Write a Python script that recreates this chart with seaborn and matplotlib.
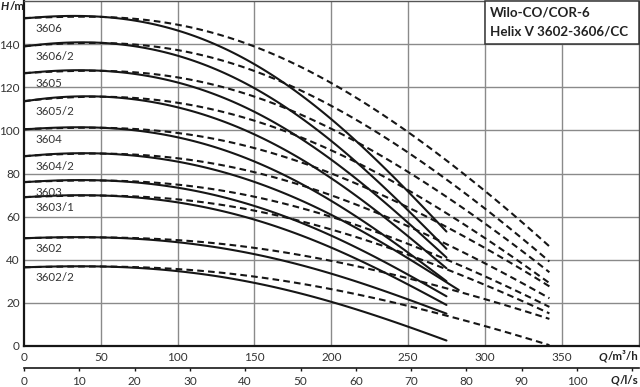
import numpy as np
import pandas as pd
import matplotlib
matplotlib.use("Agg")
import matplotlib.pyplot as plt
import seaborn as sns
from matplotlib.patches import Rectangle

# ---------------- data ----------------
pumps = ["3606", "3606/2", "3605", "3605/2", "3604", "3604/2", "3603", "3603/1", "3602", "3602/2"]

q_solid = [0, 25, 50, 75, 100, 125, 150, 175, 200, 225, 250, 275]
q_solid_long = [0, 25, 50, 75, 100, 125, 150, 175, 200, 225, 250, 275, 283]
q_dash = [0, 25, 50, 75, 100, 125, 150, 175, 200, 225, 250, 275, 300, 325, 342]

solid_3606 = [152, 153, 153, 150.5, 146.5, 139.5, 131, 119.5, 105, 89, 72, 53]
solid_3606_2 = [139, 140.5, 141, 138.6, 134.8, 128, 119.9, 108.8, 94.9, 79.6, 63.2, 45]
solid_3605 = [126.5, 127.7, 128, 125.8, 122.3, 116.3, 108.9, 98.9, 86.2, 72.3, 57.5, 41]
solid_3605_2 = [113.5, 115.4, 116, 114, 110.8, 105.2, 98.4, 89.2, 77.6, 64.8, 51.2, 36]
solid_3604 = [100.5, 101.3, 101.5, 99.7, 96.9, 91.9, 85.8, 77.5, 67.2, 55.7, 43.6, 30]
solid_3604_2 = [88, 89.2, 89.5, 88, 85.6, 81.4, 76.3, 69.4, 60.7, 51.1, 40.9, 29.5, 26]
solid_3603 = [76, 76.8, 77, 75.7, 73.5, 69.7, 65.1, 58.9, 51.1, 42.4, 33.3, 23]
solid_3603_1 = [69, 69.8, 70, 68.7, 66.7, 63.1, 58.8, 52.9, 45.5, 37.4, 28.7, 19]
solid_3602 = [50, 50.4, 50.5, 49.6, 48.2, 45.7, 42.7, 38.6, 33.5, 27.8, 21.7, 15]
solid_3602_2 = [36.5, 36.9, 37, 36.1, 34.8, 32.3, 29.4, 25.4, 20.4, 14.9, 9.1, 2.5]

dash_3606 = [152, 153, 153, 151.5, 148.5, 144.5, 139.5, 132.1, 122, 110.7, 99, 86.1, 72.2, 57.2, 46]
dash_3606_2 = [139, 140.5, 141, 139.6, 136.7, 132.9, 128.1, 121.1, 111.4, 100.7, 89.5, 77.3, 64, 49.7, 39]
dash_3605 = [126.5, 127.7, 128, 126.7, 124.1, 120.6, 116.2, 109.7, 100.7, 90.9, 80.5, 69.3, 57, 43.9, 34]
dash_3605_2 = [113.5, 115.4, 116, 114.8, 112.3, 109.1, 105, 99, 90.8, 81.6, 72.1, 61.6, 50.3, 38.1, 29]
dash_3604 = [100.5, 101.3, 101.5, 100.5, 98.4, 95.7, 92.2, 87.1, 80, 72.3, 64.1, 55.3, 45.6, 35.3, 27.5]
dash_3604_2 = [88, 89.2, 89.5, 88.6, 86.7, 84.2, 81, 76.3, 69.9, 62.8, 55.4, 47.3, 38.5, 29.1, 22]
dash_3603 = [76, 76.8, 77, 76.2, 74.5, 72.3, 69.6, 65.5, 59.9, 53.7, 47.2, 40.1, 32.5, 24.2, 18]
dash_3603_1 = [69, 69.8, 70, 69.2, 67.7, 65.7, 63.1, 59.3, 54, 48.3, 42.2, 35.6, 28.5, 20.8, 15]
dash_3602 = [50, 50.4, 50.5, 50, 48.9, 47.5, 45.7, 43.1, 39.5, 35.5, 31.3, 26.8, 21.8, 16.5, 12.5]
dash_3602_2 = [36.5, 36.9, 37, 36.5, 35.5, 34.1, 32.4, 29.8, 26.4, 22.5, 18.5, 14.1, 9.3, 4.2, 0.3]

solid_curves = [solid_3606, solid_3606_2, solid_3605, solid_3605_2, solid_3604,
                solid_3604_2, solid_3603, solid_3603_1, solid_3602, solid_3602_2]
dash_curves = [dash_3606, dash_3606_2, dash_3605, dash_3605_2, dash_3604,
               dash_3604_2, dash_3603, dash_3603_1, dash_3602, dash_3602_2]

q_ticks = [0, 50, 100, 150, 200, 250, 300, 350]
ls_ticks = [0, 10, 20, 30, 40, 50, 60, 70, 80, 90, 100, 110]
ls_labels = ["0", "10", "20", "30", "40", "50", "60", "70", "80", "90", "100", ""]
h_ticks = [0, 20, 40, 60, 80, 100, 120, 140]
title_lines = ["Wilo-CO/COR-6", "Helix V 3602-3606/CC"]

# ---------------- build long table ----------------
rows = []
for name, hs, hd in zip(pumps, solid_curves, dash_curves):
    qs = q_solid_long if len(hs) == len(q_solid_long) else q_solid
    for q, h in zip(qs, hs):
        rows.append((name, "solid", q, h))
    for q, h in zip(q_dash, hd):
        rows.append((name, "dash", q, h))
df = pd.DataFrame(rows, columns=["pump", "kind", "Q", "H"])

# ---------------- figure ----------------
sns.set_theme(style="white")
FONT = "Lato"
plt.rcParams["font.family"] = [FONT, "DejaVu Sans"]

W, H = 640, 387
fig = plt.figure(figsize=(W / 100, H / 100), dpi=100)
left, right, bottom, top = 24, 638.5, 346, 1.2
ax = fig.add_axes([left / W, (H - bottom) / H, (right - left) / W, (bottom - top) / H])

line_col = "#161616"
grid_col = "#8a8a8a"

for x in q_ticks[1:]:
    ax.axvline(x, color=grid_col, lw=1.0, zorder=0)
for y in h_ticks[1:]:
    ax.axhline(y, color=grid_col, lw=1.0, zorder=0)

# smooth curves through the read points (seaborn polynomial fit)
for name in pumps:
    sub_s = df[(df.pump == name) & (df.kind == "solid")]
    sub_d = df[(df.pump == name) & (df.kind == "dash")]
    sns.regplot(data=sub_d, x="Q", y="H", ax=ax, order=5, ci=None, scatter=False,
                truncate=True,
                line_kws=dict(color=line_col, lw=1.5, linestyle=(0, (3.2, 2.0)), zorder=3))
    sns.regplot(data=sub_s, x="Q", y="H", ax=ax, order=5, ci=None, scatter=False,
                truncate=True,
                line_kws=dict(color=line_col, lw=1.5, zorder=4))

ax.set_xlim(0, 400)
ax.set_ylim(0, 160)

for name, hs in zip(pumps, solid_curves):
    ax.annotate(name, xy=(7.6, hs[0]), xytext=(0, -3.2), textcoords="offset points",
                ha="left", va="top", fontsize=8.3, color="#333333", zorder=5)

# title box
ax.add_patch(Rectangle((300, 140), 100, 20, facecolor="white", edgecolor="#333333",
                       lw=1.1, zorder=6, clip_on=False))
ax.text(303.5, 154.8, title_lines[0], ha="left", va="center", fontsize=9.6,
        fontweight="bold", color="#222222", zorder=7)
ax.text(303.5, 145.9, title_lines[1], ha="left", va="center", fontsize=9.6,
        fontweight="bold", color="#222222", zorder=7)

ax.set_xlabel("")
ax.set_ylabel("")
ax.set_xticks(q_ticks)
ax.set_xticklabels([str(v) for v in q_ticks])
ax.set_yticks(h_ticks)
ax.set_yticklabels([str(v) for v in h_ticks])
ax.tick_params(axis="both", length=0, labelsize=8.5, labelcolor="#333333")
ax.tick_params(axis="x", pad=4)
ax.tick_params(axis="y", pad=3)

for s in ["left", "bottom"]:
    ax.spines[s].set_color(line_col)
    ax.spines[s].set_linewidth(1.6)
    ax.spines[s].set_visible(True)
for s in ["top", "right"]:
    ax.spines[s].set_color("#555555")
    ax.spines[s].set_linewidth(1.0)
    ax.spines[s].set_visible(True)

sec = ax.secondary_xaxis("bottom", functions=(lambda q: q / 3.6, lambda l: l * 3.6))
sec.spines["bottom"].set_position(("outward", 16))
sec.spines["bottom"].set_color(line_col)
sec.spines["bottom"].set_linewidth(1.2)
sec.set_xticks(ls_ticks)
sec.set_xticklabels(ls_labels)
sec.tick_params(axis="x", direction="out", length=2.5, width=1.0, color=line_col,
                labelsize=8.5, labelcolor="#333333", pad=3)

# axis unit labels: italic quantity + unit, right-aligned at the figure edge
renderer = fig.canvas.get_renderer()


def unit_label(x_right_px, y_px, sym, unit, ha_right=True, size=8.3):
    t_unit = fig.text(x_right_px / W, 1 - y_px / H, unit, fontsize=size, fontweight="bold",
                      color="#222222", ha="right" if ha_right else "left", va="center")
    bb = t_unit.get_window_extent(renderer=renderer)
    fig.text(bb.x0 / W, 1 - y_px / H, sym, fontsize=size, fontweight="bold",
             style="italic", color="#222222", ha="right", va="center")


unit_label(638, 356.5, "Q", "/m³/h")
unit_label(638, 380, "Q", "/l/s")

t_sym = fig.text(1 / W, 1 - 7 / H, "H", fontsize=8.3, fontweight="bold", style="italic",
                 color="#222222", ha="left", va="center")
bb = t_sym.get_window_extent(renderer=renderer)
fig.text(bb.x1 / W, 1 - 7 / H, "/m", fontsize=8.3, fontweight="bold",
         color="#222222", ha="left", va="center")

fig.savefig("out.png", dpi=100, facecolor="white")
